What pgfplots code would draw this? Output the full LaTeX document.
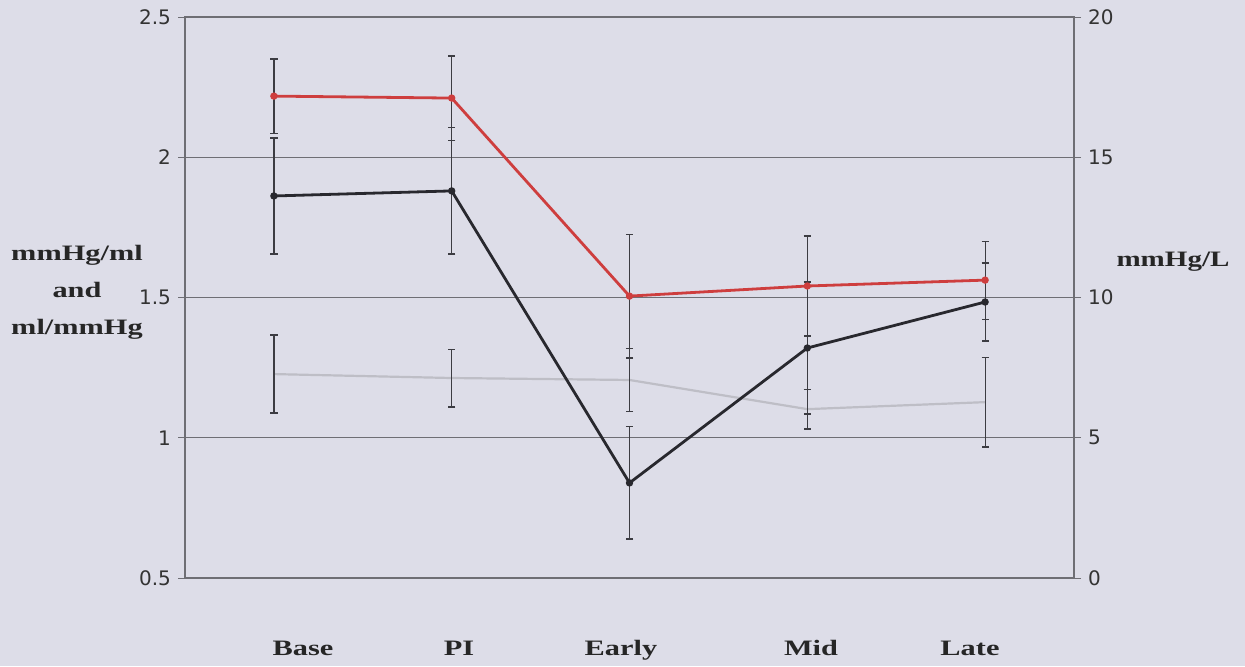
\documentclass[border=0pt]{standalone}
\usepackage{pgfplots}
\pgfplotsset{compat=1.18}
\usepackage{fontspec}
\setmainfont{Liberation Serif}
\newfontfamily\tickfont{DejaVu Sans}
\definecolor{bg}{RGB}{221,221,232}
\definecolor{redl}{RGB}{206,62,62}
\definecolor{darkl}{RGB}{40,40,46}
\definecolor{grayl}{RGB}{190,190,198}
\definecolor{gridc}{RGB}{110,110,116}
\definecolor{errc}{RGB}{60,60,66}

\pgfplotstableread{
x y e
0 2.218 0.132
1 2.211 0.150
2 1.505 0.221
3 1.541 0.178
4 1.562 0.139
}\redtab
\pgfplotstableread{
x y e
0 1.862 0.207
1 1.880 0.225
2 0.839 0.200
3 1.320 0.235
4 1.484 0.139
}\darktab
\pgfplotstableread{
x y e
0 1.227 0.139
1 1.213 0.103
2 1.206 0.111
3 1.102 0.071
4 1.127 0.160
}\graytab

\begin{document}
\begin{tikzpicture}
\fill[bg] (-92.5pt,-44pt) rectangle (530pt,289pt);
\begin{axis}[
  at={(0pt,0pt)}, anchor=south west,
  width=444.5pt, height=280.5pt, scale only axis,
  xmin=-0.5, xmax=4.5, ymin=0.5, ymax=2.5,
  ytick={0.5,1,1.5,2,2.5},
  ymajorgrids, grid style={gridc, line width=0.5pt},
  axis line style={gridc, line width=0.6pt},
  xtick={0.164,1.041,1.952,3.021,3.915},
  xticklabels={\scalebox{1.38}[1]{Base},\scalebox{1.38}[1]{PI},\scalebox{1.38}[1]{Early},\scalebox{1.38}[1]{Mid},\scalebox{1.38}[1]{Late}},
  major x tick style={draw=none},
  ytick pos=left, tick align=outside, major tick length=3.5pt,
  y tick style={gridc, line width=0.5pt},
  /pgf/number format/assume math mode=true,
  yticklabel style={font=\tickfont\fontsize{10}{12}\selectfont, text=black!80},
  xticklabel style={font=\bfseries\fontsize{11}{13}\selectfont, text=black!85, anchor=base, yshift=-35pt},
  clip=false,
]
\addplot[grayl, line width=1.1pt, mark=none,
  error bars/.cd, y dir=both, y explicit,
  error bar style={errc, line width=0.6pt},
  error mark options={errc, rotate=90, mark size=1.8pt, line width=0.6pt}]
  table[x=x, y=y, y error=e] {\graytab};
\addplot[darkl, line width=1.4pt, mark=*, mark size=1.1pt,
  error bars/.cd, y dir=both, y explicit,
  error bar style={errc, line width=0.6pt},
  error mark options={errc, rotate=90, mark size=1.8pt, line width=0.6pt}]
  table[x=x, y=y, y error=e] {\darktab};
\addplot[redl, line width=1.4pt, mark=*, mark size=1.1pt,
  error bars/.cd, y dir=both, y explicit,
  error bar style={errc, line width=0.6pt},
  error mark options={errc, rotate=90, mark size=1.8pt, line width=0.6pt}]
  table[x=x, y=y, y error=e] {\redtab};
\end{axis}
\begin{axis}[
  at={(0pt,0pt)}, anchor=south west,
  width=444.5pt, height=280.5pt, scale only axis,
  xmin=-0.5, xmax=4.5, ymin=0, ymax=20,
  axis x line=none, axis y line*=right,
  ytick={0,5,10,15,20},
  axis line style={gridc, line width=0.6pt},
  tick align=outside, major tick length=3.5pt,
  y tick style={gridc, line width=0.5pt},
  /pgf/number format/assume math mode=true,
  yticklabel style={font=\tickfont\fontsize{10}{12}\selectfont, text=black!80},
]
\addplot[draw=none, forget plot] coordinates {(0,0)};
\end{axis}
\node[font=\bfseries\fontsize{11}{18.5}\selectfont, align=center, text=black!85] at (-54pt,143pt)
  {\scalebox{1.38}[1]{mmHg/ml}\\ \scalebox{1.38}[1]{and}\\ \scalebox{1.38}[1]{ml/mmHg}};
\node[font=\bfseries\fontsize{11}{13}\selectfont, text=black!85] at (494pt,158pt)
  {\scalebox{1.32}[1]{mmHg/L}};
\pgfresetboundingbox
\path[use as bounding box] (-92.5pt,-44pt) rectangle (530pt,289pt);
\end{tikzpicture}
\end{document}
